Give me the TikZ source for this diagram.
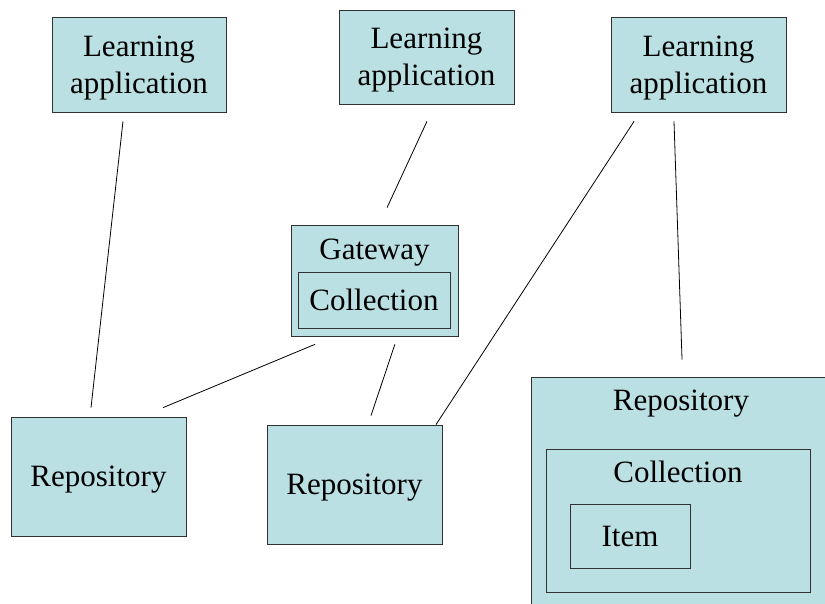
\documentclass[tikz,border=0pt]{standalone}
\usepackage{fontspec}
\setmainfont{Liberation Serif}
\definecolor{BoxCyan}{RGB}{187,224,227}
\definecolor{EdgeGray}{RGB}{50,50,50}
\usetikzlibrary{positioning, calc}

\begin{document}
\begin{tikzpicture}[x=1pt, y=-1pt,
    box/.style={draw=EdgeGray, fill=BoxCyan, line width=0.8pt, inner sep=0pt,
                font=\fontsize{31}{37}\selectfont, align=center},
    tag/.style={inner sep=0pt, font=\fontsize{31}{37}\selectfont, align=center},
    link/.style={black, line width=0.8pt}]
  \clip (0,0) rectangle (825,603);

  % learning applications
  \node[box, minimum width=174pt, minimum height=95pt,
        label={[tag, yshift=-3.5pt]center:Learning\\application}] (app1) at (139,64.5) {};
  \node[box, minimum width=175pt, minimum height=94pt,
        label={[tag, yshift=-3.5pt]center:Learning\\application}] (app2) at (426.5,57) {};
  \node[box, minimum width=175pt, minimum height=95pt,
        label={[tag, yshift=-3.5pt]center:Learning\\application}] (app3) at (698.5,64.5) {};

  % gateway
  \node[box, minimum width=167pt, minimum height=111pt] (gw) at (374.5,280.5) {};
  \node[tag] (gwlabel) at (374.5,253) {Gateway};
  \node[box, minimum width=152pt, minimum height=56pt] (gwcoll) at (374,300) {Collection};

  % repositories
  \node[box, minimum width=175pt, minimum height=119pt,
        label={[tag, yshift=-3pt]center:Repository}] (repo1) at (98.5,476.5) {};
  \node[box, minimum width=175pt, minimum height=119pt,
        label={[tag, yshift=-3pt]center:Repository}] (repo2) at (354.5,484.5) {};

  \node[box, minimum width=300pt, minimum height=238pt] (repo3) at (681,496) {};
  \node[tag] (repo3label) at (681,404) {Repository};
  \node[box, minimum width=264pt, minimum height=143pt] (coll) at (678,520.5) {};
  \node[tag] (colllabel) at (678,472) {Collection};
  \node[box, minimum width=120pt, minimum height=64pt] (item) at (630,536) {Item};

  % links
  \draw[link, shorten <=9pt, shorten >=9pt] ([xshift=-15pt]app1.south) -- ([xshift=-8.5pt]repo1.north);
  \draw[link, shorten <=18.7pt, shorten >=18.7pt] ([xshift=8.3pt]app2.south) -- ([xshift=4.7pt]gw.north);
  \draw[link, shorten <=20.6pt, shorten >=23.2pt] ([xshift=-40.5pt]gw.south) -- ([xshift=43pt]repo1.north);
  \draw[link, shorten <=8.4pt, shorten >=9.5pt] ([xshift=23pt]gw.south) -- ([xshift=13.5pt]repo2.north);
  \draw[link, shorten <=10.7pt] ([xshift=-58.6pt]app3.south) -- ([xshift=81.5pt]repo2.north);
  \draw[link, shorten <=9pt, shorten >=17pt] ([xshift=-24.8pt]app3.south) -- ([xshift=1.6pt]repo3.north);
\end{tikzpicture}
\end{document}
